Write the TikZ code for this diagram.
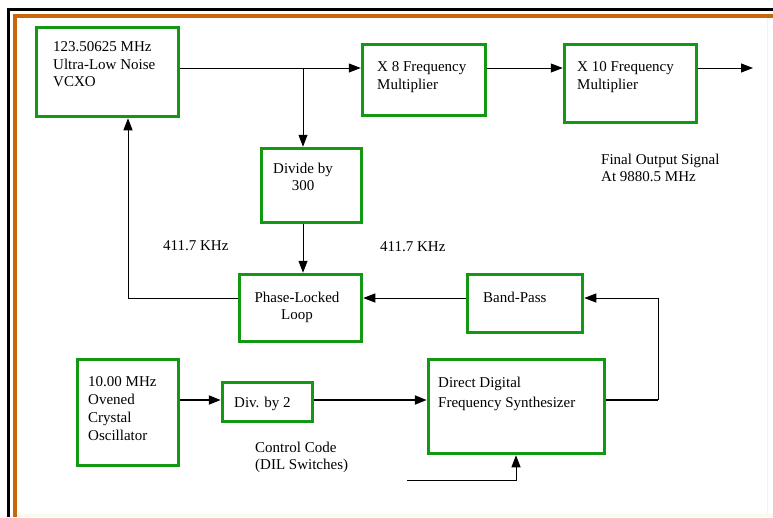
\documentclass[tikz,border=0pt]{standalone}
\usepackage{fontspec}
\setmainfont{Liberation Serif}
\usetikzlibrary{arrows.meta}
\definecolor{boxgreen}{RGB}{18,152,18}
\definecolor{frameorange}{RGB}{204,102,10}
\definecolor{faintbeige}{RGB}{250,250,236}
\tikzset{
  box/.style={draw=boxgreen, line width=3.5pt, inner sep=0pt, fill=white},
  txt/.style={inner sep=0pt, align=left, font=\fontsize{15}{17.5}\selectfont},
  ctxt/.style={inner sep=0pt, align=center, font=\fontsize{15}{17.5}\selectfont},
  wire/.style={line width=1pt, draw=black},
  thick wire/.style={line width=2pt, draw=black},
  arr/.style={-{Triangle[length=12pt,width=9pt]}},
}
\begin{document}
\begin{tikzpicture}[x=1pt,y=-1pt]
\useasboundingbox (0,0) rectangle (773,517);
\fill[white] (0,0) rectangle (773,517);
% frame
\fill[faintbeige] (17,513.5) rectangle (773,517);
\draw[black!5, line width=1pt] (767.5,18) -- (767.5,514);
\draw[black, line width=3pt] (8.5,517) -- (8.5,9.5) -- (773,9.5);
\draw[frameorange, line width=4pt] (15,517) -- (15,16) -- (773,16);

% boxes
\node[box, minimum width=142, minimum height=89] (vcxo) at (107.5,72) {};
\node[box, minimum width=123, minimum height=71] (x8) at (424,80) {};
\node[box, minimum width=132, minimum height=78] (x10) at (630.5,83.5) {};
\node[box, minimum width=100, minimum height=74] (div) at (311.5,185.5) {};
\node[box, minimum width=122, minimum height=67] (pll) at (300.5,308) {};
\node[box, minimum width=115, minimum height=58] (bp) at (525,303.5) {};
\node[box, minimum width=101, minimum height=106] (ocxo) at (128,412.5) {};
\node[box, minimum width=90, minimum height=39] (div2) at (267.5,402) {};
\node[box, minimum width=176, minimum height=94] (dds) at (516.5,406.5) {};

% box texts
\node[txt, anchor=north west] (vcxoT) at (53,41.5) {123.50625 MHz\\Ultra-Low Noise\\VCXO};
\node[txt, anchor=north west] (x8T) at (377,61.5) {X 8 Frequency\\Multiplier};
\node[txt, anchor=north west] (x10T) at (577,61.5) {X 10 Frequency\\Multiplier};
\node[ctxt, anchor=north] (divT) at (303,162.5) {Divide by\\300};
\node[ctxt, anchor=north] (pllT) at (297,291.5) {Phase-Locked\\Loop};
\node[txt, anchor=north west] (bpT) at (483,291.5) {Band-Pass};
\node[txt, anchor=north west, font=\fontsize{15}{18}\selectfont] (ocxoT) at (88,376.5) {10.00 MHz\\Ovened\\Crystal\\Oscillator};
\node[txt, anchor=north west] (div2T) at (234,396.5) {Div. by 2};
\node[txt, anchor=north west, font=\fontsize{15}{20}\selectfont] (ddsT) at (438,376.5) {Direct Digital\\Frequency Synthesizer};

% free labels
\node[txt, anchor=north west] (f1) at (163,240.5) {411.7 KHz};
\node[txt, anchor=north west] (f2) at (380,241.5) {411.7 KHz};
\node[txt, anchor=north west] (fout) at (601,153.5) {Final Output Signal\\At 9880.5 MHz};
\node[txt, anchor=north west] (ctrl) at (255,441.5) {Control Code\\(DIL Switches)};

% helper coordinates
\coordinate (top) at (0,68);
\coordinate (br) at (303,68);
\coordinate (out) at (753,68);
\coordinate (pl) at (128,298);
\coordinate (rr) at (658,400);
\coordinate (c0) at (407,480);
\coordinate (c1) at (516,480);

% connectors
\draw[wire, arr] (vcxo.east |- top) -- (x8.west |- top);
\draw[wire, arr] (br) -- (br |- div.north);
\draw[wire, arr] (x8.east |- top) -- (x10.west |- top);
\draw[wire, arr] (x10.east |- top) -- (out);
\draw[wire, arr] (br |- div.south) -- (br |- pll.north);
\draw[wire, arr] (pll.west |- pl) -- (pl) -- (pl |- vcxo.south);
\draw[wire, arr] (bp.west |- pl) -- (pll.east |- pl);
\draw[thick wire] (dds.east |- rr) -- (rr);
\draw[wire, arr] (rr) -- (rr |- pl) -- (bp.east |- pl);
\draw[thick wire, arr] (ocxo.east |- rr) -- (div2.west |- rr);
\draw[thick wire, arr] (div2.east |- rr) -- (dds.west |- rr);
\draw[wire, arr] (c0) -- (c1) -- (c1 |- dds.south);
\end{tikzpicture}
\end{document}
